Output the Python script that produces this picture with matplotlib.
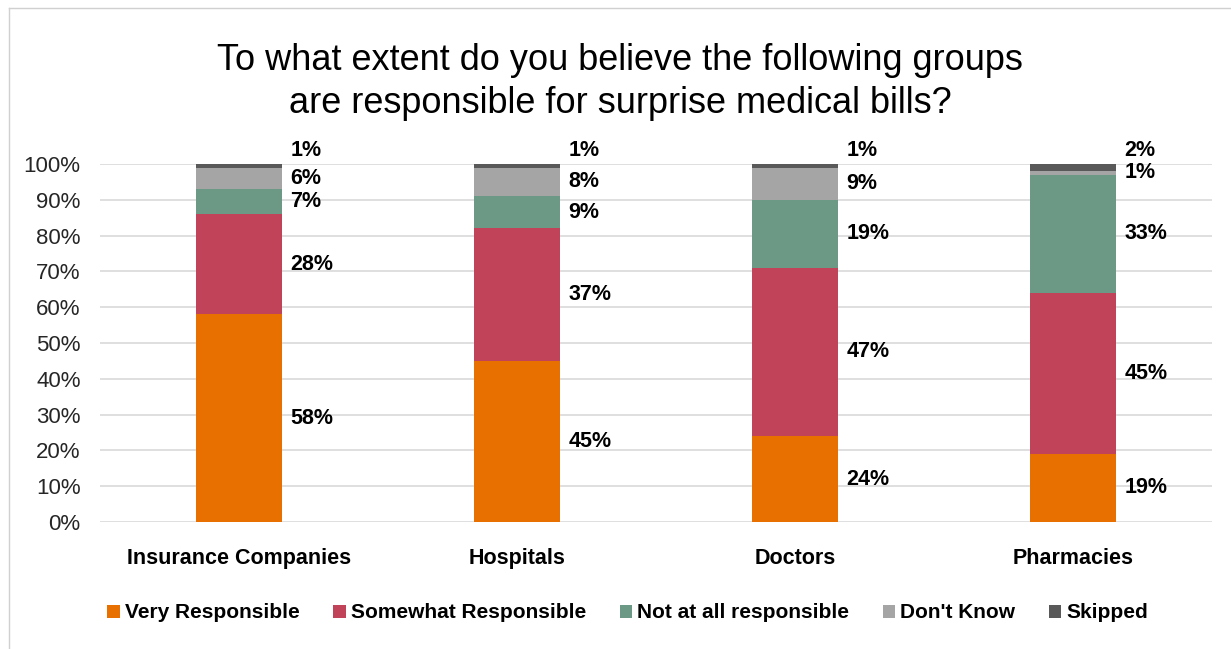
import matplotlib.pyplot as plt
from matplotlib.patches import Patch
from matplotlib.lines import Line2D

plt.rcParams['font.family'] = ['Liberation Sans', 'DejaVu Sans']

groups = ['Insurance Companies', 'Hospitals', 'Doctors', 'Pharmacies']
series = ['Very Responsible', 'Somewhat Responsible', 'Not at all responsible', "Don't Know", 'Skipped']
very = [58, 45, 24, 19]
somewhat = [28, 37, 47, 45]
not_at_all = [7, 9, 19, 33]
dont_know = [6, 8, 9, 1]
skipped = [1, 1, 1, 2]
colors = ['#E87000', '#C0435A', '#6C9985', '#A5A5A5', '#595959']

values = [very, somewhat, not_at_all, dont_know, skipped]

fig = plt.figure(figsize=(12.31, 6.49), dpi=100)
ax = fig.add_axes([0.0812, 0.1957, 0.9034, 0.5516])

x = range(len(groups))
bottom = [0] * len(groups)
for vals, name, c in zip(values, series, colors):
    ax.bar(x, vals, width=0.31, bottom=bottom, color=c, label=name, zorder=3)
    for i, v in enumerate(vals):
        if name == 'Skipped':
            ypos = 103.8
        else:
            ypos = bottom[i] + v / 2
        ax.text(i + 0.185, ypos, f'{v}%', ha='left', va='center',
                fontsize=15.5, fontweight='bold', clip_on=False)
    bottom = [b + v for b, v in zip(bottom, vals)]

ax.set_xlim(-0.5, 3.5)
ax.set_ylim(0, 100)
ax.set_yticks(range(0, 101, 10))
ax.set_yticklabels([f'{t}%' for t in range(0, 101, 10)], fontsize=16, color='#262626')
ax.set_xticks(list(x))
ax.set_xticklabels(groups, fontsize=15.5, fontweight='bold')
ax.tick_params(axis='both', length=0)
ax.tick_params(axis='y', pad=14)
ax.tick_params(axis='x', pad=19)
for s in ax.spines.values():
    s.set_visible(False)
ax.yaxis.grid(True, color='#D9D9D9', linewidth=1.2, zorder=0)
ax.set_axisbelow(True)

fig.text(0.504, 1 - 82 / 649,
         'To what extent do you believe the following groups\nare responsible for surprise medical bills?',
         ha='center', va='center', fontsize=26, linespacing=1.3)

handles = [Patch(facecolor=c, label=n) for n, c in zip(series, colors)]
fig.legend(handles=handles, loc='center', bbox_to_anchor=(0.51, 1 - 613 / 649), ncol=5,
           frameon=False, handlelength=0.6, handleheight=0.6, handletextpad=0.25,
           columnspacing=1.6, prop={'size': 15, 'weight': 'bold'})

fig.add_artist(Line2D([9 / 1231, 9 / 1231], [0, 1 - 8 / 649], color='#D0D0D0', linewidth=1))
fig.add_artist(Line2D([9 / 1231, 1], [1 - 8 / 649, 1 - 8 / 649], color='#D0D0D0', linewidth=1))

fig.savefig('out.png', dpi=100)
